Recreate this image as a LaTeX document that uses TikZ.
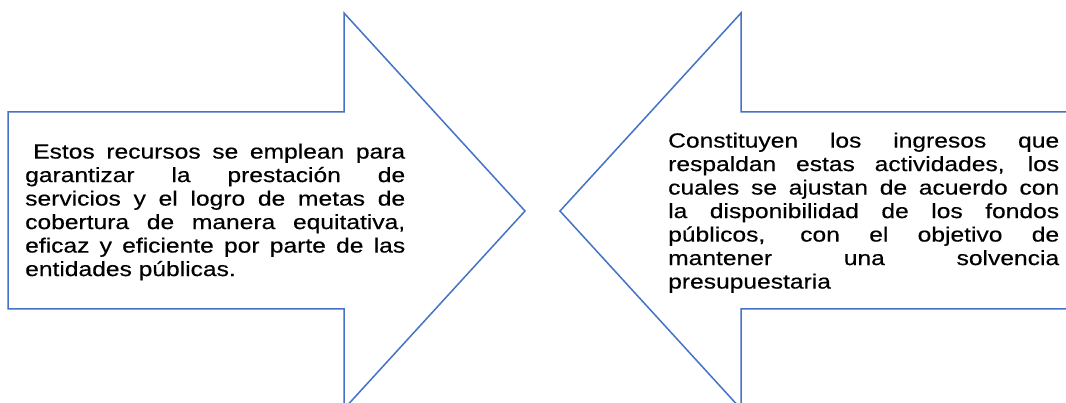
\documentclass[tikz,border=0pt]{standalone}
\usepackage{fontspec}
\setmainfont{Liberation Sans}[FakeStretch=1.2,FakeBold=0.35]
\definecolor{arrowblue}{HTML}{4472C4}
\newlength{\twl}\setlength{\twl}{380pt}
\newlength{\twr}\setlength{\twr}{391pt}
\newcommand{\jll}[1]{\makebox[\twl][s]{#1}}
\newcommand{\jlr}[1]{\makebox[\twr][s]{#1}}
\begin{document}
\begin{tikzpicture}[x=1pt,y=-1pt,
  arrowshape/.style={draw=arrowblue, line width=1.5pt, line join=miter, fill=white},
  bodytext/.style={anchor=north west, inner sep=0pt, align=left,
    font=\fontsize{20.5}{23.5}\selectfont, text=black}]
\useasboundingbox (0,0) rectangle (1066,403);
\clip (0,0) rectangle (1066,403);
\fill[white] (0,0) rectangle (1066,403);
% left arrow (pointing right)
\draw[arrowshape] (8,112) -- (344,112) -- (344,13) -- (525,211) -- (344,409)
  -- (344,309) -- (8,309) -- cycle;
% right arrow (pointing left)
\draw[arrowshape] (1080,112) -- (741,112) -- (741,13) -- (560,211) -- (741,409)
  -- (741,309) -- (1080,309) -- cycle;
\node[bodytext] (lefttext) at (25,143.5) {%
  \jll{\hspace*{8pt}Estos recursos se emplean para}\\
  \jll{garantizar la prestación de}\\
  \jll{servicios y el logro de metas de}\\
  \jll{cobertura de manera equitativa,}\\
  \jll{eficaz y eficiente por parte de las}\\
  entidades públicas.};
\node[bodytext] (righttext) at (668,132.5) {%
  \jlr{Constituyen los ingresos que}\\
  \jlr{respaldan estas actividades, los}\\
  \jlr{cuales se ajustan de acuerdo con}\\
  \jlr{la disponibilidad de los fondos}\\
  \jlr{públicos, con el objetivo de}\\
  \jlr{mantener una solvencia}\\
  presupuestaria};
\end{tikzpicture}
\end{document}
